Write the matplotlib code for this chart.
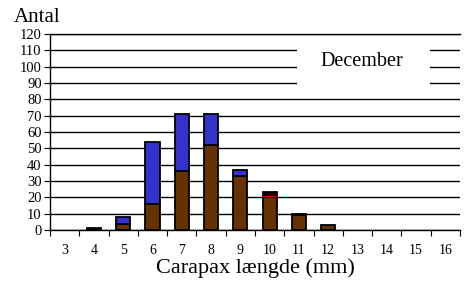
import numpy as np
import matplotlib
matplotlib.use("Agg")
import matplotlib.pyplot as plt
from matplotlib.patches import Rectangle

plt.rcParams['font.family'] = ['Liberation Serif', 'DejaVu Serif']

# Carapax længde (mm) og antal pr. kategori
lengths = [3, 4, 5, 6, 7, 8, 9, 10, 11, 12, 13, 14, 15, 16]
brown = [0, 1, 4, 16, 36, 52, 33, 20, 9, 3, 0, 0, 0, 0]
blue = [0, 0, 4, 38, 35, 19, 4, 0, 0, 0, 0, 0, 0, 0]
red = [0, 0, 0, 0, 0, 0, 0, 1, 0, 0, 0, 0, 0, 0]
black = [0, 0, 0, 0, 0, 0, 0, 2, 1, 0, 0, 0, 0, 0]
yticks = list(range(0, 121, 10))

fig = plt.figure(figsize=(4.67, 2.84), dpi=100)
ax = fig.add_axes([0.107, 0.19, 0.878, 0.69])

x = np.array(lengths)
w = 0.48
bottom = np.zeros(len(x))
for vals, col in [(brown, '#663300'), (blue, '#3333CC'), (red, '#FF0000'), (black, '#000000')]:
    v = np.array(vals, dtype=float)
    m = v > 0
    lw = 0 if col == '#FF0000' else 1.3
    ax.bar(x[m], v[m], w, bottom=bottom[m], color=col, edgecolor='black',
           linewidth=lw, zorder=4 if lw == 0 else 3)
    bottom += v

ax.set_xlim(2.5, 16.5)
ax.set_ylim(0, 120)
ax.set_yticks(yticks)
ax.set_yticklabels([str(t) for t in yticks], fontsize=10.5)
ax.yaxis.grid(True, color='black', linewidth=1)
ax.set_axisbelow(True)

# ticks mellem kategorierne, labels i midten
ax.set_xticks(np.arange(2.5, 17, 1))
ax.set_xticklabels([])
ax.set_xticks(x, minor=True)
ax.set_xticklabels([str(l) for l in lengths], minor=True, fontsize=10)
ax.tick_params(axis='x', which='major', length=4, direction='out', color='black')
ax.tick_params(axis='x', which='minor', length=0, pad=10)
ax.tick_params(axis='y', length=4, direction='out', pad=2)

ax.spines['right'].set_visible(False)
ax.spines['top'].set_visible(True)
for s in ['left', 'bottom', 'top']:
    ax.spines[s].set_linewidth(1)

# hvid boks bag teksten
ax.add_patch(Rectangle((10.93, 84), 4.54, 30, facecolor='white', edgecolor='none', zorder=2))
ax.text(13.15, 103.5, 'December', ha='center', va='center', fontsize=14.5, zorder=4)

fig.text(0.03, 0.905, 'Antal', fontsize=15, ha='left', va='bottom')
ax.set_xlabel('Carapax længde (mm)', fontsize=16, labelpad=1)

fig.savefig('out.png', dpi=100)
